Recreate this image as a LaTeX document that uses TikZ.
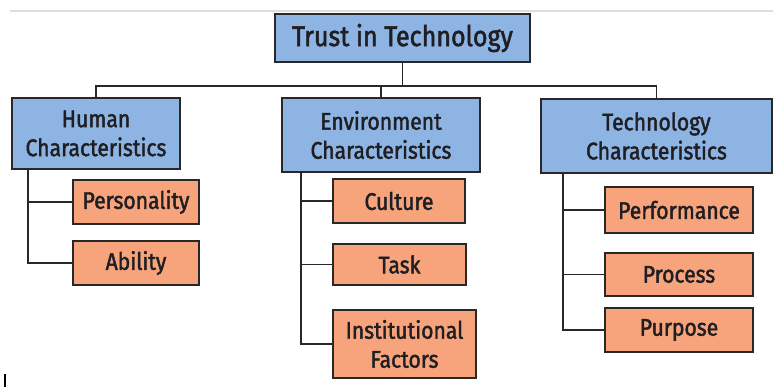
\documentclass[tikz,border=0pt]{standalone}
\usepackage{fontspec}
\newfontfamily\labelfont{Fira Sans}[FakeStretch=0.88, FakeBold=1.8]
\definecolor{catblue}{RGB}{142,180,227}
\definecolor{leaforange}{RGB}{247,163,124}
\definecolor{edgegray}{RGB}{40,40,40}
\definecolor{textdark}{RGB}{30,30,35}
\definecolor{rulegray}{RGB}{222,222,222}
\begin{document}
\begin{tikzpicture}[x=1pt,y=-1pt,
  box/.style={draw=edgegray, line width=1.8pt, inner sep=0pt, align=center,
    text=textdark, font=\labelfont\fontsize{24}{29}\selectfont},
  rootbox/.style={box, fill=catblue, font=\labelfont\fontsize{28.5}{32}\selectfont},
  catbox/.style={box, fill=catblue},
  leafbox/.style={box, fill=leaforange},
  link/.style={draw=edgegray, line width=1.8pt}]
\useasboundingbox (0,0) rectangle (773,387);

% faint rule across the top
\draw[rulegray, line width=2pt] (10,11.5) -- (773,11.5);
\draw[black, line width=2pt] (5,374) -- (5,387);

% root
\node[rootbox, minimum width=255, minimum height=48] (root) at (402.5,38) {Trust in Technology};

% categories
\node[catbox, minimum width=168, minimum height=71] (human) at (96,133.5) {Human\\Characteristics};
\node[catbox, minimum width=198, minimum height=74] (env) at (381,135) {Environment\\Characteristics};
\node[catbox, minimum width=231, minimum height=74] (tech) at (656.5,136) {Technology\\Characteristics};

% leaves
\node[leafbox, minimum width=126, minimum height=44] (pers) at (136,202) {Personality};
\node[leafbox, minimum width=126, minimum height=44] (abil) at (136,263) {Ability};
\node[leafbox, minimum width=132, minimum height=44] (cult) at (399,201) {Culture};
\node[leafbox, minimum width=133, minimum height=41] (task) at (399.5,264.5) {Task};
\node[leafbox, minimum width=143, minimum height=68] (inst) at (404.5,344) {Institutional\\Factors};
\node[leafbox, minimum width=148, minimum height=46] (perf) at (679,210) {Performance};
\node[leafbox, minimum width=148, minimum height=43] (proc) at (679,274.5) {Process};
\node[leafbox, minimum width=148, minimum height=44] (purp) at (679,330) {Purpose};

% bus from the root to the categories
\coordinate (bus) at (402.5,86);
\draw[link] (root.south) -- (root.south |- bus);
\draw[link] (human.north) -- (human.north |- bus) -- (tech.north |- bus) -- (tech.north);
\draw[link] (env.north) -- (env.north |- bus);

% trunks from each category to its leaves
\draw[link] ([xshift=17]human.south west) |- (abil.west);
\draw[link] ([xshift=17]human.south west |- pers.west) -- (pers.west);
\draw[link] ([xshift=20]env.south west) |- (inst.west);
\draw[link] ([xshift=20]env.south west |- cult.west) -- (cult.west);
\draw[link] ([xshift=20]env.south west |- task.west) -- (task.west);
\draw[link] ([xshift=23]tech.south west) |- (purp.west);
\draw[link] ([xshift=23]tech.south west |- perf.west) -- (perf.west);
\draw[link] ([xshift=23]tech.south west |- proc.west) -- (proc.west);
\end{tikzpicture}
\end{document}
